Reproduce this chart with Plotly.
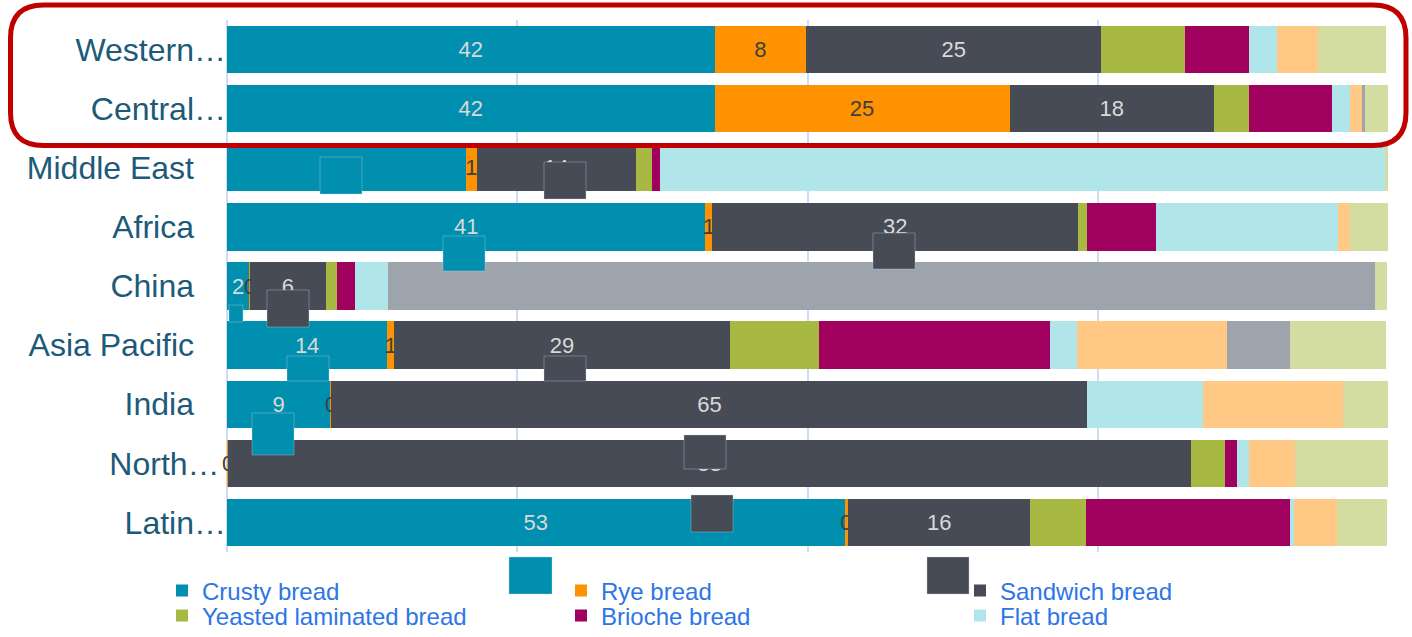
import plotly.graph_objects as go

# ---------------- data ----------------
categories = ["Western…", "Central…", "Middle East", "Africa", "China",
              "Asia Pacific", "India", "North…", "Latin…"]

crusty    = [42.0, 42.0, 20.6, 41.2, 1.9, 13.8, 8.9, 0.0, 53.2]
rye       = [7.9, 25.4, 0.9, 0.6, 0.1, 0.6, 0.1, 0.1, 0.3]
sandwich  = [25.4, 17.6, 13.7, 31.5, 6.5, 28.9, 65.1, 82.9, 15.7]
yeasted   = [7.2, 3.0, 1.4, 0.8, 1.0, 7.7, 0.0, 3.0, 4.8]
brioche   = [5.5, 7.2, 0.7, 5.9, 1.5, 19.9, 0.0, 1.0, 17.6]
flat      = [2.4, 1.5, 62.4, 15.7, 2.9, 2.3, 10.0, 1.0, 0.3]
sweet     = [3.6, 1.1, 0.0, 1.0, 0.0, 12.9, 12.0, 4.0, 3.7]
steamed   = [0.0, 0.2, 0.0, 0.0, 85.0, 5.5, 0.0, 0.0, 0.0]
other     = [5.8, 2.1, 0.3, 3.3, 1.0, 8.2, 4.0, 8.0, 4.3]

series_names = ["Crusty bread", "Rye bread", "Sandwich bread",
                "Yeasted laminated bread", "Brioche bread", "Flat bread",
                "Sweet bread", "Steamed bread", "Other bread"]
series_values = [crusty, rye, sandwich, yeasted, brioche, flat, sweet, steamed, other]

# ---------------- styles ----------------
colors = ["#008FAE", "#FF9200", "#474B55", "#A7B843", "#A0005E", "#B0E5EA",
          "#FFC985", "#9EA4AB", "#D3DCA1"]
labelled = {0: "#D9D9D9", 1: "#404040", 2: "#D9D9D9"}
legend_of = {0: "legend", 1: "legend", 2: "legend",
             3: "legend2", 4: "legend2", 5: "legend2"}
tick_pad = {"Middle East": "\u2003", "Africa": "\u2003", "China": "\u2003",
            "Asia Pacific": "\u2003", "India": "\u2003", "North…": "\u2009"}

W, H = 1412, 637
L, R, T, B = 227, 1388, 20, 552


def px2x(px):
    return (px - L) / (R - L)


def py2y(py):
    return (B - py) / (B - T)


FONT = "Arial, Liberation Sans, sans-serif"

fig = go.Figure()
for i, (name, vals) in enumerate(zip(series_names, series_values)):
    kw = {}
    if i in labelled:
        kw = dict(text=[f"{v:.0f}" for v in vals], textposition="inside",
                  insidetextanchor="middle", textangle=0, constraintext="none",
                  textfont=dict(size=22, color=labelled[i], family=FONT))
    fig.add_trace(go.Bar(
        y=categories, x=vals, name=name, orientation="h",
        marker=dict(color=colors[i], line=dict(width=0)),
        showlegend=i in legend_of, legend=legend_of.get(i, "legend"),
        cliponaxis=False, hoverinfo="x+name", **kw))

# decorative: misplaced data-label legend keys visible in the original rendering
label_key_boxes = [
    (320, 362, 157, 194, colors[0]),
    (544, 586, 162, 199, colors[2]),
    (443, 485, 236, 271, colors[0]),
    (873, 915, 233, 269, colors[2]),
    (229, 243, 305, 322, colors[0]),
    (267, 309, 290, 327, colors[2]),
    (287, 329, 356, 381, colors[0]),
    (544, 586, 356, 381, colors[2]),
    (252, 294, 413, 455, colors[0]),
    (684, 726, 435, 469, colors[2]),
    (691, 733, 495, 532, colors[2]),
    (509, 552, 557, 594, colors[0]),
    (927, 969, 557, 594, colors[2]),
]
shapes = []
for x0, x1, y0, y1, c in label_key_boxes:
    shapes.append(dict(type="rect", xref="paper", yref="paper",
                       x0=px2x(x0), x1=px2x(x1), y0=py2y(y1), y1=py2y(y0),
                       fillcolor=c, line=dict(width=0.6, color="rgba(200,215,225,0.6)"),
                       layer="above"))

# red rounded highlight frame
fl, fr, ft, fb, rad = 10.5, 1406, 5, 145.5, 33
pts = lambda px, py: f"{px2x(px):.5f},{py2y(py):.5f}"
path = ("M" + pts(fl + rad, ft) + " L" + pts(fr - rad, ft) +
        " Q" + pts(fr, ft) + " " + pts(fr, ft + rad) +
        " L" + pts(fr, fb - rad) +
        " Q" + pts(fr, fb) + " " + pts(fr - rad, fb) +
        " L" + pts(fl + rad, fb) +
        " Q" + pts(fl, fb) + " " + pts(fl, fb - rad) +
        " L" + pts(fl, ft + rad) +
        " Q" + pts(fl, ft) + " " + pts(fl + rad, ft) + " Z")
shapes.append(dict(type="path", xref="paper", yref="paper", path=path,
                   line=dict(color="#C00000", width=5), layer="above"))

legend_common = dict(orientation="h", xanchor="left", yanchor="middle",
                     entrywidth=354, entrywidthmode="pixels", itemwidth=30,
                     traceorder="normal",
                     font=dict(size=24, color="#2E75E6", family=FONT),
                     bgcolor="rgba(0,0,0,0)", borderwidth=0,
                     itemclick=False, itemdoubleclick=False)

fig.update_layout(
    width=W, height=H,
    margin=dict(l=L, r=W - R, t=T, b=H - B, pad=0, autoexpand=False),
    paper_bgcolor="white", plot_bgcolor="white",
    barmode="stack", bargap=0.2,
    font=dict(family=FONT),
    xaxis=dict(range=[0, 100], tickvals=[0, 25, 50, 75, 100], showticklabels=False,
               showgrid=True, gridcolor="#CFDCF6", gridwidth=2,
               zeroline=True, zerolinecolor="#CFDCF6", zerolinewidth=2,
               showline=False, ticks="", fixedrange=True),
    yaxis=dict(categoryorder="array", categoryarray=categories, autorange="reversed",
               tickvals=categories,
               ticktext=[c + tick_pad.get(c, "") for c in categories],
               tickfont=dict(size=32, color="#1D5A79", family=FONT),
               showgrid=False, zeroline=False, showline=False, ticks="",
               ticklabelstandoff=0, fixedrange=True),
    legend=dict(x=px2x(162), y=py2y(591), **legend_common),
    legend2=dict(x=px2x(162), y=py2y(616), **legend_common),
    shapes=shapes,
)

fig.write_html("out.html")
